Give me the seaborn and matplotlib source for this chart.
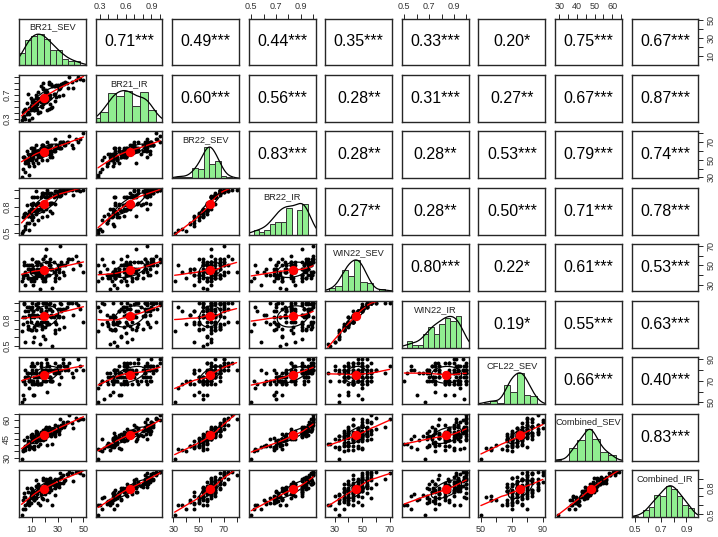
import numpy as np
import pandas as pd
import matplotlib
matplotlib.use("Agg")
import matplotlib.pyplot as plt
import seaborn as sns

# ---------------- data ----------------
names = ["BR21_SEV", "BR21_IR", "BR22_SEV", "BR22_IR", "WIN22_SEV",
         "WIN22_IR", "CFL22_SEV", "Combined_SEV", "Combined_IR"]

BR21_SEV = [2, 5, 3, 8,
            6, 9, 4, 12, 7, 10, 5, 3,
            9, 14, 7, 11, 15, 4, 18, 12, 8, 13, 10, 5, 16, 11,
            12, 17, 8, 21, 13, 15, 9, 19, 11, 22, 6, 16, 10, 24, 7, 17, 14, 26,
            16, 21, 12, 24, 14, 19, 10, 28, 17, 22, 13, 25, 18, 20, 9, 23, 19, 15, 11, 29, 17, 20,
            22, 27, 18, 32, 20, 19, 14, 28, 23, 31, 13, 26, 17, 21, 36, 16, 24, 20,
            25, 33, 22, 30, 27, 38, 21, 31, 24, 34, 23, 42, 29, 32,
            33, 41, 28, 37, 31, 44, 34, 35,
            47, 39, 50, 46]
BR21_IR = [0.28, 0.30, 0.33, 0.28,
           0.38, 0.44, 0.35, 0.45, 0.40, 0.32, 0.47, 0.42,
           0.48, 0.55, 0.42, 0.52, 0.40, 0.45, 0.50, 0.55, 0.38, 0.48, 0.58, 0.45, 0.42, 0.52,
           0.45, 0.62, 0.48, 0.58, 0.50, 0.75, 0.52, 0.55, 0.60, 0.45, 0.57, 0.62, 0.48, 0.55, 0.72, 0.52, 0.58, 0.50,
           0.62, 0.78, 0.58, 0.65, 0.45, 0.82, 0.62, 0.60, 0.85, 0.60, 0.65, 0.48, 0.68, 0.62, 0.65, 0.47, 0.80, 0.60, 0.62, 0.67, 0.58, 0.73,
           0.70, 0.85, 0.65, 0.82, 0.68, 0.90, 0.65, 0.72, 0.88, 0.68, 0.70, 0.84, 0.62, 0.72, 0.92, 0.65, 0.70, 0.68,
           0.88, 0.85, 0.75, 0.86, 0.72, 0.82, 0.75, 0.80, 0.88, 0.70, 0.92, 0.82, 0.86, 0.85,
           0.88, 0.92, 0.85, 0.90, 0.83, 0.95, 0.90, 0.88,
           0.97, 1.00, 0.95, 1.00]
BR22_SEV = [31.0, 36.7, 40.0, 33.3,
            46.7, 50.0, 53.3, 43.3, 56.7, 50.0, 46.7, 53.3,
            53.3, 56.7, 50.0, 60.0, 46.7, 53.3, 50.0, 56.7, 43.3, 60.0, 53.3, 50.0, 56.7, 46.7,
            56.7, 60.0, 53.3, 56.7, 50.0, 60.0, 63.3, 56.7, 53.3, 50.0, 60.0, 56.7, 63.3, 53.3, 46.7, 60.0, 56.7, 53.3,
            60.0, 56.7, 63.3, 60.0, 56.7, 63.3, 56.7, 60.0, 53.3, 63.3, 60.0, 56.7, 66.7, 60.0, 56.7, 63.3, 60.0, 53.3, 60.0, 63.3, 56.7, 60.0,
            63.3, 60.0, 66.7, 63.3, 60.0, 66.7, 60.0, 63.3, 56.7, 63.3, 66.7, 60.0, 63.3, 60.0, 66.7, 56.7, 63.3, 60.0,
            66.7, 63.3, 70.0, 66.7, 63.3, 70.0, 63.3, 66.7, 60.0, 70.0, 66.7, 63.3, 66.7, 70.0,
            70.0, 66.7, 73.3, 70.0, 66.7, 73.3, 70.0, 66.7,
            73.3, 76.7, 80.0, 70.0]
BR22_IR = [0.50, 0.55, 0.52, 0.53,
           0.62, 0.68, 0.70, 0.60, 0.72, 0.65, 0.58, 0.68,
           0.73, 0.75, 0.70, 0.78, 0.65, 0.72, 0.68, 0.75, 0.62, 0.82, 0.70, 0.73, 0.78, 0.68,
           0.77, 0.82, 0.75, 0.78, 0.72, 0.85, 0.84, 0.75, 0.77, 0.70, 0.82, 0.78, 0.91, 0.75, 0.70, 0.82, 0.77, 0.73,
           0.84, 0.82, 0.91, 0.85, 0.78, 0.94, 0.82, 0.84, 0.78, 0.91, 0.82, 0.85, 0.94, 0.82, 0.78, 0.91, 0.84, 0.77, 0.85, 0.93, 0.82, 0.84,
           0.91, 0.91, 0.96, 0.93, 0.85, 0.96, 0.91, 0.94, 0.84, 0.93, 0.98, 0.85, 0.91, 0.91, 0.96, 0.82, 0.93, 0.91,
           0.96, 0.94, 0.99, 0.98, 0.94, 1.00, 0.96, 0.98, 0.93, 1.00, 0.96, 0.94, 0.98, 1.00,
           0.97, 0.99, 0.98, 1.00, 0.96, 1.00, 0.97, 0.99,
           0.98, 1.00, 1.00, 1.00]
WIN22_SEV = [33.3, 43.3, 36.7, 50.0,
             40.0, 33.3, 50.0, 43.3, 36.7, 56.7, 30.0, 40.0,
             43.3, 50.0, 36.7, 46.7, 40.0, 53.3, 43.3, 33.3, 46.7, 36.7, 50.0, 40.0, 25.0, 46.7,
             43.3, 50.0, 36.7, 46.7, 40.0, 53.3, 43.3, 33.3, 46.7, 40.0, 50.0, 43.3, 36.7, 56.7, 46.7, 40.0, 43.3, 26.7,
             46.7, 53.3, 36.7, 50.0, 43.3, 56.7, 46.7, 33.3, 50.0, 40.0, 53.3, 46.7, 36.7, 60.0, 50.0, 40.0, 43.3, 53.3, 30.0, 46.7, 50.0, 36.7,
             46.7, 53.3, 40.0, 50.0, 43.3, 56.7, 46.7, 36.7, 50.0, 43.3, 53.3, 46.7, 40.0, 66.7, 50.0, 43.3, 46.7, 33.3,
             46.7, 53.3, 40.0, 50.0, 43.3, 56.7, 46.7, 36.7, 50.0, 43.3, 53.3, 46.7, 40.0, 70.0,
             50.0, 56.7, 43.3, 53.3, 46.7, 60.0, 50.0, 40.0,
             50.0, 56.7, 43.3, 53.3]
WIN22_IR = [0.67, 0.90, 0.75, 0.95,
            0.78, 0.68, 0.98, 0.86, 0.73, 1.00, 0.55, 0.83,
            0.83, 0.93, 0.70, 0.90, 0.75, 1.00, 0.78, 0.60, 0.86, 0.68, 0.95, 0.83, 0.52, 0.90,
            0.83, 0.93, 0.70, 0.90, 0.75, 1.00, 0.78, 0.62, 0.86, 0.75, 0.95, 0.83, 0.68, 1.00, 0.90, 0.78, 0.85, 0.50,
            0.85, 0.95, 0.72, 0.93, 0.78, 1.00, 0.86, 0.65, 0.90, 0.78, 0.97, 0.83, 0.70, 1.00, 0.92, 0.75, 0.85, 0.95, 0.55, 0.86, 0.90, 0.72,
            0.86, 0.97, 0.73, 0.93, 0.78, 1.00, 0.86, 0.68, 0.92, 0.83, 0.98, 0.90, 0.75, 1.00, 0.93, 0.83, 0.85, 0.58,
            0.86, 0.98, 0.75, 0.93, 0.83, 1.00, 0.90, 0.70, 0.93, 0.83, 0.98, 0.86, 0.75, 1.00,
            0.90, 1.00, 0.77, 0.95, 0.85, 1.00, 0.92, 0.72,
            0.92, 1.00, 0.78, 0.97]
CFL22_SEV = [50.0, 66.7, 70.0, 63.3,
             76.7, 70.0, 53.3, 66.7, 73.3, 70.0, 80.0, 56.7,
             70.0, 66.7, 73.3, 76.7, 66.7, 70.0, 80.0, 56.7, 70.0, 76.7, 66.7, 73.3, 76.7, 56.7,
             73.3, 76.7, 70.0, 80.0, 73.3, 66.7, 83.3, 76.7, 70.0, 60.0, 73.3, 66.7, 80.0, 73.3, 76.7, 73.3, 70.0, 70.0,
             76.7, 70.0, 83.3, 80.0, 73.3, 76.7, 86.7, 76.7, 66.7, 83.3, 80.0, 70.0, 76.7, 80.0, 76.7, 80.0, 73.3, 73.3, 83.3, 76.7, 86.7, 70.0,
             76.7, 80.0, 73.3, 83.3, 76.7, 70.0, 86.7, 80.0, 73.3, 66.7, 76.7, 70.0, 83.3, 76.7, 80.0, 76.7, 73.3, 80.0,
             80.0, 73.3, 86.7, 83.3, 76.7, 80.0, 90.0, 80.0, 70.0, 86.7, 83.3, 73.3, 80.0, 83.3,
             80.0, 76.7, 86.7, 83.3, 76.7, 80.0, 90.0, 83.3,
             83.3, 86.7, 80.0, 90.0]
Combined_SEV = [29.0, 36.4, 35.5, 37.2,
                40.5, 38.8, 38.0, 39.7, 41.4, 44.7, 38.9, 36.3,
                42.2, 44.7, 39.7, 46.4, 39.7, 43.8, 45.5, 37.2, 39.7, 44.7, 43.0, 39.7, 40.9, 38.0,
                44.7, 48.9, 40.5, 48.9, 42.2, 47.2, 48.0, 43.9, 43.8, 40.5, 46.3, 43.9, 46.3, 48.8, 43.0, 45.5, 43.8, 41.3,
                48.0, 48.0, 47.2, 51.3, 45.5, 52.2, 48.9, 47.2, 44.7, 49.7, 49.7, 47.2, 47.2, 53.0, 46.4, 49.7, 47.2, 47.2, 44.7, 51.4, 50.5, 44.7,
                50.5, 53.0, 48.0, 54.7, 48.8, 51.4, 50.5, 49.7, 48.8, 48.8, 51.4, 48.9, 49.7, 54.7, 56.4, 47.2, 50.5, 47.2,
                53.0, 53.8, 53.0, 55.5, 50.5, 58.9, 53.8, 51.4, 49.7, 56.3, 54.7, 53.8, 51.4, 61.3,
                56.3, 58.0, 56.3, 58.8, 52.2, 62.2, 58.8, 54.7,
                61.3, 64.0, 61.3, 60.5]
Combined_IR = [0.49, 0.60, 0.56, 0.60,
               0.62, 0.63, 0.69, 0.66, 0.65, 0.68, 0.56, 0.66,
               0.70, 0.76, 0.64, 0.75, 0.63, 0.74, 0.68, 0.66, 0.64, 0.68, 0.76, 0.69, 0.60, 0.71,
               0.74, 0.80, 0.67, 0.77, 0.69, 0.84, 0.74, 0.67, 0.76, 0.66, 0.79, 0.76, 0.70, 0.80, 0.75, 0.73, 0.75, 0.61,
               0.78, 0.82, 0.75, 0.82, 0.73, 0.88, 0.78, 0.72, 0.81, 0.77, 0.82, 0.77, 0.78, 0.84, 0.80, 0.75, 0.81, 0.79, 0.70, 0.82, 0.77, 0.75,
               0.82, 0.87, 0.79, 0.85, 0.79, 0.91, 0.81, 0.79, 0.86, 0.81, 0.88, 0.84, 0.77, 0.89, 0.88, 0.78, 0.83, 0.73,
               0.87, 0.92, 0.84, 0.89, 0.83, 0.94, 0.86, 0.84, 0.91, 0.85, 0.90, 0.87, 0.84, 0.96,
               0.92, 0.96, 0.89, 0.95, 0.89, 0.97, 0.94, 0.87,
               0.96, 0.975, 0.94, 0.97]

# correlations printed in the upper panels (row-major, upper triangle)
cor_values = [0.71, 0.49, 0.44, 0.35, 0.33, 0.20, 0.75, 0.67,
              0.60, 0.56, 0.28, 0.31, 0.27, 0.67, 0.87,
              0.83, 0.28, 0.28, 0.53, 0.79, 0.74,
              0.27, 0.28, 0.50, 0.71, 0.78,
              0.80, 0.22, 0.61, 0.53,
              0.19, 0.55, 0.63,
              0.66, 0.40,
              0.83]
cor_stars = ["***", "***", "***", "***", "***", "*", "***", "***",
             "***", "***", "**", "***", "**", "***", "***",
             "***", "**", "**", "***", "***", "***",
             "**", "**", "***", "***", "***",
             "***", "*", "***", "***",
             "*", "***", "***",
             "***", "***",
             "***"]

# axis ticks and the tick labels that are printed
tick_pos = {
    "BR21_SEV": [10, 20, 30, 40, 50],
    "BR21_IR": [0.3, 0.4, 0.5, 0.6, 0.7, 0.8, 0.9, 1.0],
    "BR22_SEV": [30, 40, 50, 60, 70, 80],
    "BR22_IR": [0.5, 0.6, 0.7, 0.8, 0.9, 1.0],
    "WIN22_SEV": [30, 40, 50, 60, 70],
    "WIN22_IR": [0.5, 0.6, 0.7, 0.8, 0.9, 1.0],
    "CFL22_SEV": [50, 60, 70, 80, 90],
    "Combined_SEV": [30, 35, 40, 45, 50, 55, 60, 65],
    "Combined_IR": [0.5, 0.6, 0.7, 0.8, 0.9],
}
xtick_labels = {  # horizontal axes (top / bottom)
    "BR21_SEV": ["10", "", "30", "", "50"],
    "BR21_IR": ["0.3", "", "", "0.6", "", "", "0.9", ""],
    "BR22_SEV": ["30", "", "50", "", "70", ""],
    "BR22_IR": ["0.5", "", "0.7", "", "0.9", ""],
    "WIN22_SEV": ["30", "", "50", "", "70"],
    "WIN22_IR": ["0.5", "", "0.7", "", "0.9", ""],
    "CFL22_SEV": ["50", "", "70", "", "90"],
    "Combined_SEV": ["30", "", "40", "", "50", "", "60", ""],
    "Combined_IR": ["0.5", "", "0.7", "", "0.9"],
}
ytick_labels = {  # vertical axes (left / right)
    "BR21_SEV": ["10", "", "30", "", "50"],
    "BR21_IR": ["0.3", "", "", "", "0.7", "", "", ""],
    "BR22_SEV": ["30", "", "50", "", "70", ""],
    "BR22_IR": ["0.5", "", "", "0.8", "", ""],
    "WIN22_SEV": ["30", "", "50", "", "70"],
    "WIN22_IR": ["0.5", "", "", "0.8", "", ""],
    "CFL22_SEV": ["50", "", "70", "", "90"],
    "Combined_SEV": ["30", "", "", "45", "", "", "60", ""],
    "Combined_IR": ["0.5", "", "", "0.8", ""],
}

columns = [BR21_SEV, BR21_IR, BR22_SEV, BR22_IR, WIN22_SEV,
           WIN22_IR, CFL22_SEV, Combined_SEV, Combined_IR]

# ---------------- helpers ----------------
def r_lowess(x, y, f=2 / 3, iters=3):
    order = np.argsort(x, kind="mergesort")
    x = np.asarray(x, float)[order]
    y = np.asarray(y, float)[order]
    n = len(x)
    ns = max(min(int(f * n + 1e-7), n), 2)
    rw = np.ones(n)
    fit = np.zeros(n)
    rng = x[-1] - x[0]
    for it in range(iters + 1):
        for i in range(n):
            d = np.abs(x - x[i])
            h = np.sort(d)[ns - 1]
            if h > 0:
                u = d / h
                w = np.where(u < 0.999, (1 - np.clip(u, 0, 1) ** 3) ** 3, 0.0)
                w[u <= 0.001] = 1.0
            else:
                w = (d == 0).astype(float)
            w = w * rw
            if w.sum() <= 0:
                fit[i] = y[i]
                continue
            w = w / w.sum()
            xm = (w * x).sum()
            var = (w * (x - xm) ** 2).sum()
            if np.sqrt(var) > 0.001 * rng:
                b = (w * (x - xm) * y).sum() / var
            else:
                b = 0.0
            fit[i] = (w * y).sum() + b * (x[i] - xm)
        if it < iters:
            res = y - fit
            cmad = 6 * np.median(np.abs(res))
            if cmad < 1e-7 * np.mean(np.abs(y)):
                break
            u = res / cmad
            rw = np.where(np.abs(u) < 1, (1 - u ** 2) ** 2, 0.0)
    return x, fit


def pretty_unit(span, ncls):
    cell = span / ncls
    U = 10 ** np.floor(np.log10(cell))
    unit = U
    if 2 * U - cell < 1.5 * (cell - unit):
        unit = 2 * U
        if 5 * U - cell < 2.75 * (cell - unit):
            unit = 5 * U
            if 10 * U - cell < 1.5 * (cell - unit):
                unit = 10 * U
    return unit


def r_density(x, grid_lo, grid_hi):
    x = np.asarray(x, float)
    n = len(x)
    sd = x.std(ddof=1)
    iqr = np.subtract(*np.percentile(x, [75, 25]))
    bw = 1.2 * 1.06 * min(sd, iqr / 1.34) * n ** (-0.2)
    g = np.linspace(min(x.min() - 3 * bw, grid_lo), max(x.max() + 3 * bw, grid_hi), 512)
    dens = np.exp(-0.5 * ((g[:, None] - x[None, :]) / bw) ** 2).sum(axis=1)
    return g, dens / dens.max()


# ---------------- figure ----------------
sns.set_theme(style="white")
plt.rcParams["font.family"] = ["Liberation Sans", "DejaVu Sans"]

nv = len(names)
fig, axes = plt.subplots(nv, nv, figsize=(7.18, 5.37), dpi=100)
fig.subplots_adjust(left=0.0265, right=0.9728, top=0.9655, bottom=0.0372,
                    wspace=0.145, hspace=0.204)

data = [np.asarray(c, float) for c in columns]
lims = []
for v in data:
    span = v.max() - v.min()
    lims.append((v.min() - 0.04 * span, v.max() + 0.04 * span))

frame_col = "#262626"
tick_col = "#333333"
k = 0
for i in range(nv):
    for j in range(nv):
        ax = axes[i, j]
        ax.set_facecolor("white")
        for s in ax.spines.values():
            s.set_visible(True)
            s.set_color(frame_col)
            s.set_linewidth(1.0)
            s.set_zorder(6)
        if i > j:
            xv, yv = data[j], data[i]
            pts = pd.DataFrame({"x": xv, "y": yv})
            sns.scatterplot(data=pts, x="x", y="y", ax=ax, color="black", s=8,
                            linewidth=0, legend=False, zorder=2)
            lx, ly = r_lowess(xv, yv)
            ax.plot(lx, ly, color="red", lw=1.0, zorder=3)
            xm, ym = xv.mean(), yv.mean()
            xs, ys = xv.std(ddof=1), yv.std(ddof=1)
            r = np.corrcoef(xv, yv)[0, 1]
            ang = np.linspace(0, 2 * np.pi, 52)
            circle = np.column_stack([np.cos(ang), np.sin(ang)])
            th = np.sign(r) / np.sqrt(2) if abs(r) > 0 else 1 / np.sqrt(2)
            shape = np.diag([np.sqrt(1 + r), np.sqrt(1 - r)]) @ np.array([[th, th], [-th, th]])
            ell = circle @ shape
            ax.plot(ell[:, 0] * xs + xm, ell[:, 1] * ys + ym, color="black", lw=0.9, zorder=3)
            mp = pd.DataFrame({"x": [xm], "y": [ym]})
            sns.scatterplot(data=mp, x="x", y="y", ax=ax, color="red", s=45,
                            linewidth=0, legend=False, zorder=4)
        elif i == j:
            v = data[i]
            lo, hi = lims[i]
            hlo, hhi = lo - abs(0.05 * lo), hi + abs(0.05 * hi)
            hax = ax.inset_axes([0, 0, 1, 1], zorder=1)
            hax.patch.set_alpha(0)
            unit = pretty_unit(v.max() - v.min(), int(np.ceil(np.log2(len(v)) + 1)))
            b0 = np.floor(v.min() / unit + 1e-7) * unit
            b1 = np.ceil(v.max() / unit - 1e-7) * unit
            edges = np.arange(b0, b1 + unit / 2, unit) + 1e-6 * unit
            edges[0] = b0 - 1e-6 * unit
            counts, _ = np.histogram(v, bins=edges)
            hd = pd.DataFrame({"v": v, "w": np.full(len(v), 1.0 / counts.max())})
            sns.histplot(data=hd, x="v", weights="w", bins=[float(e) for e in edges],
                         ax=hax, color="#90EE90", edgecolor="#333333", linewidth=0.7,
                         alpha=1.0, stat="count")
            gx, gy = r_density(v, hlo, hhi)
            hax.plot(gx, gy, color="black", lw=0.9)
            hax.set_xlim(hlo, hhi)
            hax.set_ylim(0, 1.5)
            hax.set_xticks([])
            hax.set_yticks([])
            hax.set_xlabel("")
            hax.set_ylabel("")
            hax.axis("off")
            ax.text(0.5, 0.82, names[i], transform=ax.transAxes, ha="center", va="center",
                    fontsize=6.7, color="#222222", zorder=10)
        else:
            ax.text(0.5, 0.5, f"{cor_values[k]:.2f}{cor_stars[k]}", transform=ax.transAxes,
                    ha="center", va="center", fontsize=11.5, color="black")
            k += 1

        ax.set_xlabel("")
        ax.set_ylabel("")
        ax.set_xticks([])
        ax.set_yticks([])
        ax.tick_params(which="both", direction="out", length=3.6, width=0.7,
                       colors=frame_col, labelcolor=tick_col, labelsize=6.5, pad=2.0)
        # horizontal axes
        if i == 0 and j % 2 == 1:
            ax.xaxis.set_ticks_position("top")
            ax.set_xticks(tick_pos[names[j]])
            ax.set_xticklabels(xtick_labels[names[j]])
        if i == nv - 1 and j % 2 == 0:
            ax.xaxis.set_ticks_position("bottom")
            ax.set_xticks(tick_pos[names[j]])
            ax.set_xticklabels(xtick_labels[names[j]])
        # vertical axes
        if j == 0 and i % 2 == 1:
            ax.yaxis.set_ticks_position("left")
            ax.set_yticks(tick_pos[names[i]])
            ax.set_yticklabels(ytick_labels[names[i]], rotation=90, va="center")
        if j == nv - 1 and i % 2 == 0:
            ax.yaxis.set_ticks_position("right")
            ax.set_yticks(tick_pos[names[i]])
            ax.set_yticklabels(ytick_labels[names[i]], rotation=90, va="center")
        ax.set_xlim(*lims[j])
        ax.set_ylim(*lims[i])

fig.savefig("out.png", dpi=100, facecolor="white")
